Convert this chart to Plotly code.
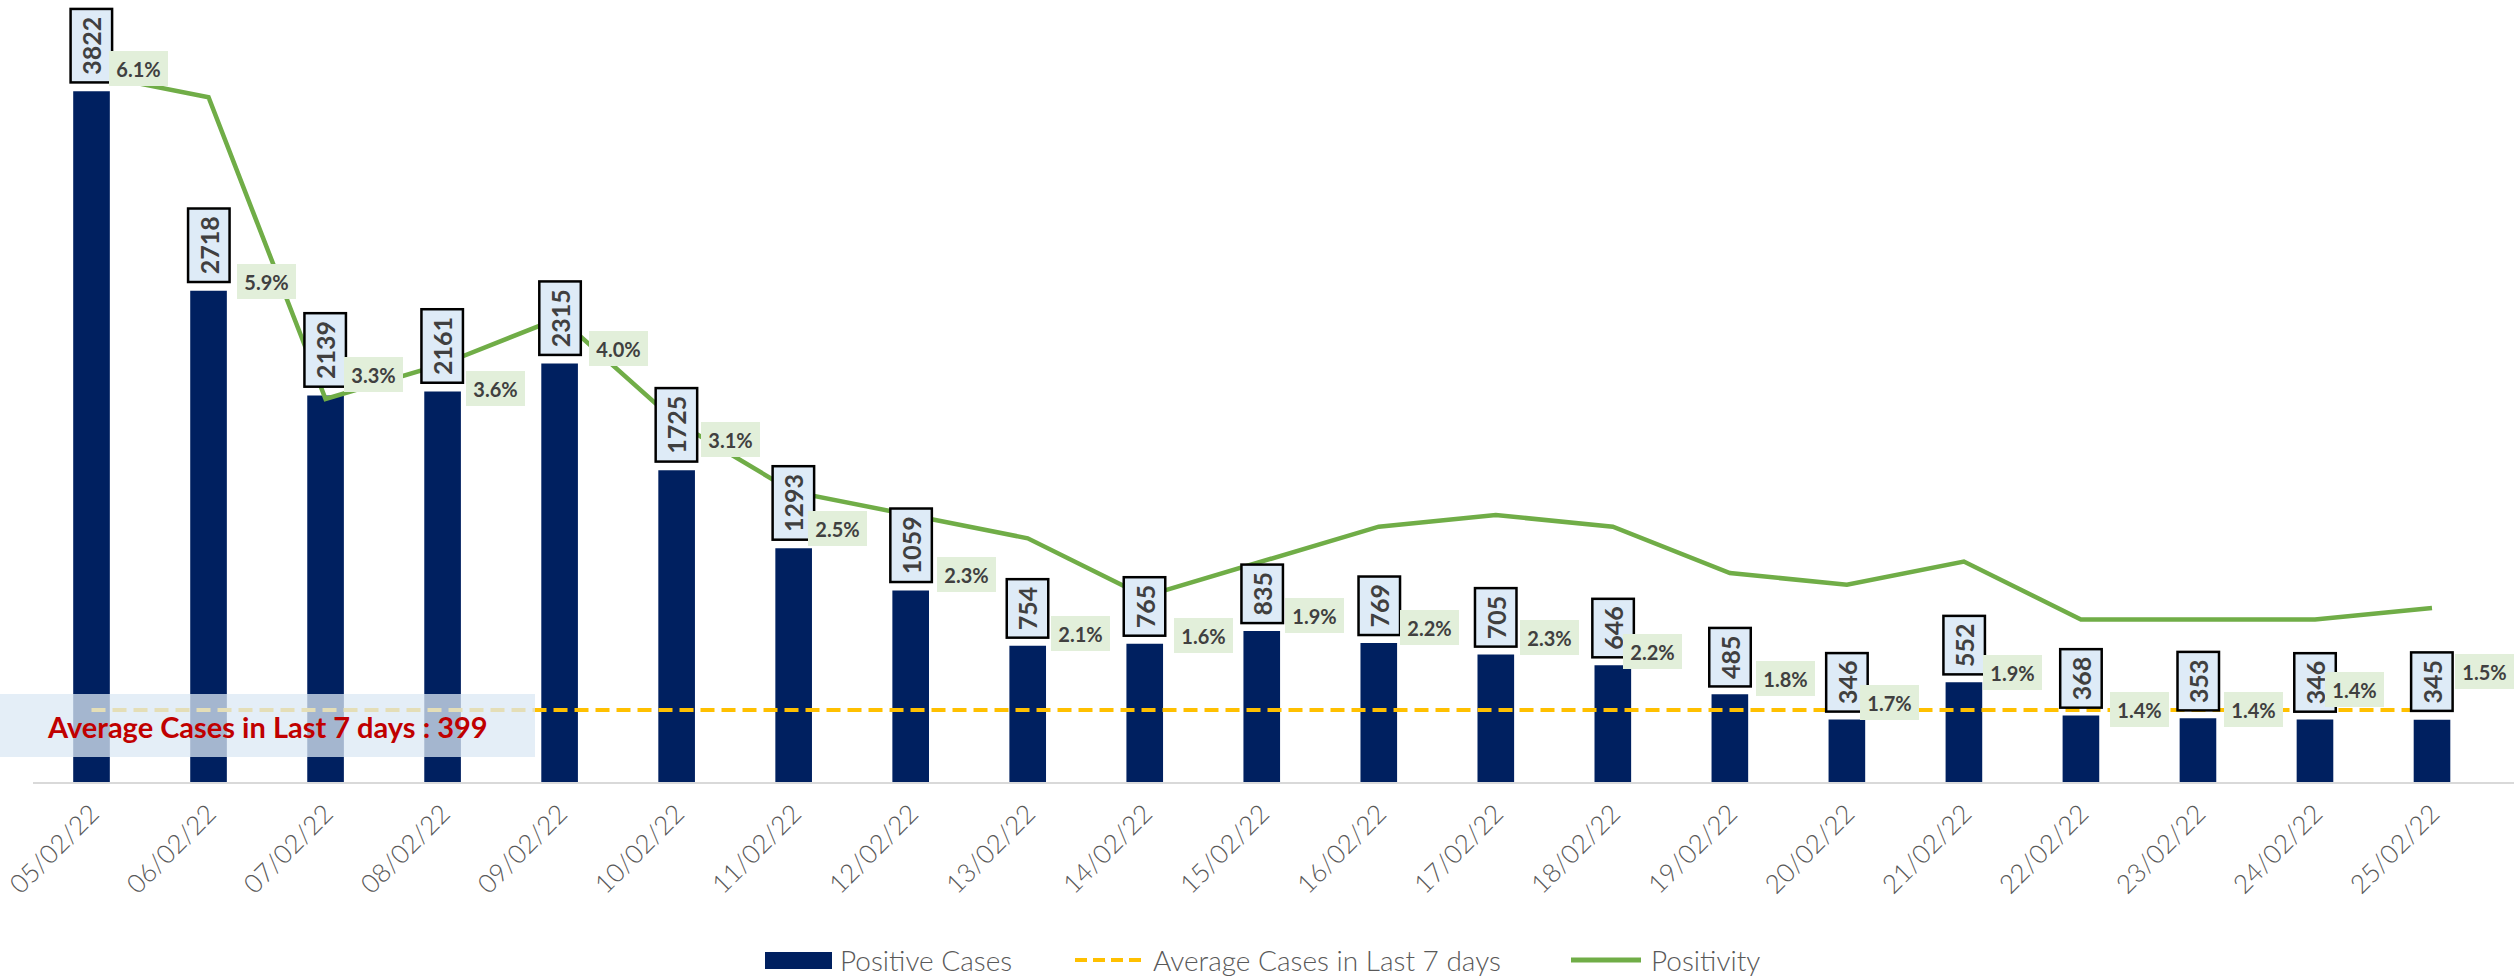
import plotly.graph_objects as go

# ---------------- data ----------------
dates = ["05/02/22", "06/02/22", "07/02/22", "08/02/22", "09/02/22", "10/02/22", "11/02/22",
         "12/02/22", "13/02/22", "14/02/22", "15/02/22", "16/02/22", "17/02/22", "18/02/22",
         "19/02/22", "20/02/22", "21/02/22", "22/02/22", "23/02/22", "24/02/22", "25/02/22"]
positive_cases = [3822, 2718, 2139, 2161, 2315, 1725, 1293, 1059, 754, 765, 835,
                  769, 705, 646, 485, 346, 552, 368, 353, 346, 345]
positivity = [6.1, 5.9, 3.3, 3.6, 4.0, 3.1, 2.5, 2.3, 2.1, 1.6, 1.9,
              2.2, 2.3, 2.2, 1.8, 1.7, 1.9, 1.4, 1.4, 1.4, 1.5]
avg_cases_last7 = [399, 399, 399, 399, 399, 399, 399, 399, 399, 399, 399,
                   399, 399, 399, 399, 399, 399, 399, 399, 399, 399]
avg_value = 399

# manual placement offsets (px) of the positivity labels relative to the bar top
label_dx = [17, 28, 18, 23, 29, 24, 14, 26, 23, 29, 23, 21, 24, 10, 26, 13, 19, 29, 26, 10, 23]
label_dy = [-23, -9, -21, -3, -15, -31, -20, -16, -12, -8, -16, -16, -17, -14, -16, -17, -10, -6, -9, -30, -48]

# ---------------- layout constants ----------------
W, H = 2516, 976
ML, MR, MT, MB = 33, 2, 59, 194
Y_MAX = 4000
Y2_MAX = 6.23
FONT = "Lato, 'Open Sans', 'DejaVu Sans', sans-serif"
NAVY = "#002060"
GREEN = "#70AD47"
GOLD = "#FFC000"
GREY = "#595959"
DARK = "#404040"

PW = W - ML - MR
PH = H - MT - MB


def px_x(X):
    return (X - ML) / PW


def px_y(Y):
    return (H - MB - Y) / PH


fig = go.Figure()

fig.add_trace(go.Bar(
    x=dates, y=positive_cases, name="Positive Cases",
    marker=dict(color=NAVY, line=dict(width=0)), width=0.313,
    showlegend=False,
))
fig.add_trace(go.Scatter(
    x=dates, y=avg_cases_last7, name="Average Cases in Last 7 days", mode="lines",
    line=dict(color=GOLD, width=4, dash="14px,7px"), showlegend=False,
))
fig.add_trace(go.Scatter(
    x=dates, y=positivity, name="Positivity", mode="lines", yaxis="y2",
    line=dict(color=GREEN, width=4.5), showlegend=False,
))

annotations = []
# value boxes (rotated)
for d, v in zip(dates, positive_cases):
    n = len(str(v))
    annotations.append(dict(
        x=d, y=v, xref="x", yref="y", text=str(v), textangle=-90, showarrow=False,
        xanchor="center", yanchor="bottom", yshift=7,
        font=dict(family=FONT, size=25, color=DARK, weight="bold"),
        bgcolor="#DEEBF7", bordercolor="#000000", borderwidth=2.5, borderpad=0,
        width=15 * n + 11, height=39,
    ))
# positivity labels
for d, v, p, dx, dy in zip(dates, positive_cases, positivity, label_dx, label_dy):
    annotations.append(dict(
        x=d, y=v, xref="x", yref="y", text=f"{p:.1f}%", showarrow=False,
        xanchor="left", yanchor="middle", xshift=dx, yshift=-dy,
        font=dict(family=FONT, size=20, color=DARK, weight="bold"),
        bgcolor="#E2EFDA", borderwidth=0, borderpad=0, width=59, height=35,
    ))

shapes = []
# average annotation box
shapes.append(dict(
    type="rect", xref="paper", yref="paper", layer="above",
    x0=px_x(0), x1=px_x(535), y0=px_y(757), y1=px_y(694),
    fillcolor="rgba(219,232,244,0.75)", line=dict(width=0),
))
annotations.append(dict(
    xref="paper", yref="paper", x=px_x(267), y=px_y(726), showarrow=False,
    text=f"Average Cases in Last 7 days : {avg_value}",
    xanchor="center", yanchor="middle",
    font=dict(family=FONT, size=29, color="#C00000", weight="bold"),
))

# custom legend
LEG_Y = 960
shapes.append(dict(type="rect", xref="paper", yref="paper",
                   x0=px_x(765), x1=px_x(832), y0=px_y(969), y1=px_y(952),
                   fillcolor=NAVY, line=dict(width=0)))
shapes.append(dict(type="line", xref="paper", yref="paper",
                   x0=px_x(1075), x1=px_x(1142), y0=px_y(LEG_Y), y1=px_y(LEG_Y),
                   line=dict(color=GOLD, width=4, dash="12px,6px")))
shapes.append(dict(type="line", xref="paper", yref="paper",
                   x0=px_x(1571), x1=px_x(1641), y0=px_y(LEG_Y), y1=px_y(LEG_Y),
                   line=dict(color=GREEN, width=5)))
for txt, X in [("Positive Cases", 838), ("Average Cases in Last 7 days", 1151), ("Positivity", 1649)]:
    annotations.append(dict(
        xref="paper", yref="paper", x=px_x(X), y=px_y(LEG_Y), text=txt, showarrow=False,
        xanchor="left", yanchor="middle",
        font=dict(family=FONT, size=28, color=GREY, weight=300),
    ))

fig.update_layout(
    width=W, height=H,
    margin=dict(l=ML, r=MR, t=MT, b=MB, pad=0),
    paper_bgcolor="white", plot_bgcolor="white",
    showlegend=False,
    xaxis=dict(
        type="category", tickangle=-45, showgrid=False, zeroline=False,
        showline=True, linecolor="#D9D9D9", linewidth=2, ticks="",
        tickfont=dict(family=FONT, size=26, color=GREY, weight=300),
        ticklabelstandoff=4,
    ),
    yaxis=dict(range=[0, Y_MAX], visible=False, showgrid=False, zeroline=False),
    yaxis2=dict(range=[0, Y2_MAX], overlaying="y", side="right", visible=False,
                showgrid=False, zeroline=False),
    annotations=annotations,
    shapes=shapes,
)

fig.write_html("out.html", config={"displayModeBar": False},
               post_script="document.body.style.margin='0';")
